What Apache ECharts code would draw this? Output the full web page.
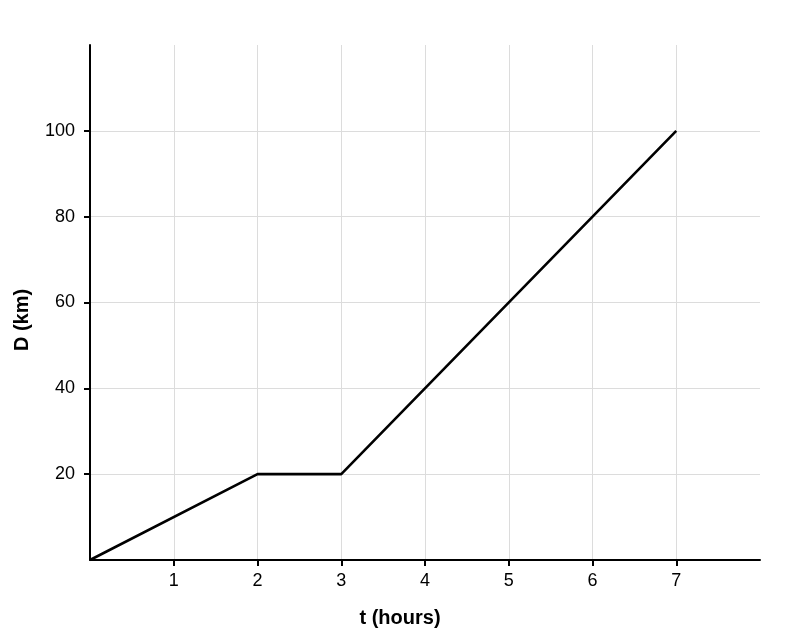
<!DOCTYPE html>
<html><head><meta charset="utf-8">
<script src="https://cdn.jsdelivr.net/npm/echarts@6/dist/echarts.min.js"></script>
<style>html,body{margin:0;padding:0;background:#fff}#c{width:800px;height:640px}</style>
</head><body><div id="c"></div>
<script>
const tValues = [0, 2, 3, 7];
const dValues = [0, 20, 20, 100];
const xTicks = [1, 2, 3, 4, 5, 6, 7];
const yTicks = [20, 40, 60, 80, 100];
const xTitle = 't (hours)';
const yTitle = 'D (km)';

const chart = echarts.init(document.getElementById('c'));
const font = 'Liberation Sans, Arial, sans-serif';
const gridColor = '#dcdcdc';
chart.setOption({
  animation: false,
  grid: {left: 90, right: 40, top: 45, bottom: 80},
  xAxis: {
    type: 'value', min: 0, max: 8, interval: 1,
    name: xTitle, nameLocation: 'middle', nameGap: 48,
    nameTextStyle: {fontFamily: font, fontSize: 20, fontWeight: 'bold', color: '#000', padding: [0, 50, 0, 0]},
    axisLine: {lineStyle: {color: '#000', width: 2}},
    axisTick: {show: true, length: 6, lineStyle: {color: '#000', width: 2}, customValues: xTicks},
    axisLabel: {fontFamily: font, fontSize: 18, color: '#000', margin: 12,
      formatter: v => xTicks.indexOf(v) >= 0 ? String(v) : ''},
    splitLine: {show: true, showMinLine: true, showMaxLine: true, lineStyle: {color: gridColor, width: 1}}
  },
  yAxis: {
    type: 'value', min: 0, max: 120, interval: 20,
    name: yTitle, nameLocation: 'middle', nameGap: 58, nameRotate: 90,
    nameTextStyle: {fontFamily: font, fontSize: 20, fontWeight: 'bold', color: '#000', padding: [0, 35, 0, 0]},
    axisLine: {show: true, lineStyle: {color: '#000', width: 2}},
    axisTick: {show: true, length: 6, lineStyle: {color: '#000', width: 2}, customValues: yTicks},
    axisLabel: {fontFamily: font, fontSize: 18, color: '#000', margin: 15,
      formatter: v => yTicks.indexOf(v) >= 0 ? String(v) : ''},
    splitLine: {show: true, showMinLine: true, showMaxLine: true, lineStyle: {color: gridColor, width: 1}}
  },
  series: [{
    type: 'line',
    data: tValues.map((t, i) => [t, dValues[i]]),
    showSymbol: false,
    lineStyle: {color: '#000', width: 2.6},
    z: 5
  }]
});
</script></body></html>
